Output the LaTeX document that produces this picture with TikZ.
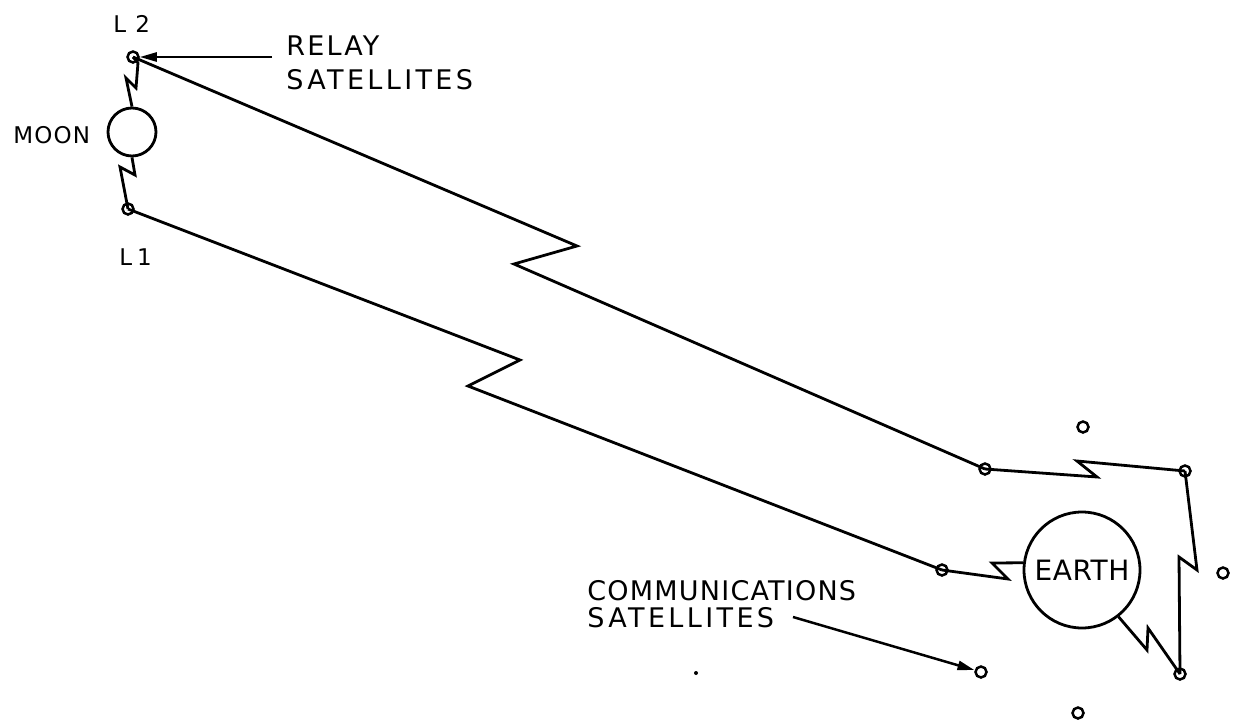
\documentclass[tikz,border=0pt]{standalone}
\usepackage{fontspec}
\setmainfont{DejaVu Sans}
\newcommand{\lspc}[1]{\addfontfeature{LetterSpace=#1}}
\usetikzlibrary{arrows.meta}
\begin{document}
\begin{tikzpicture}[x=1pt,y=-1pt,line width=2.8pt,
  sat/.style={circle,draw,inner sep=0pt,minimum size=11pt,line width=2.5pt},
  body/.style={circle,draw,inner sep=0pt,line width=2.8pt},
  lbl/.style={inner sep=0pt,font=\fontsize{27}{30}\selectfont},
  slbl/.style={inner sep=0pt,font=\fontsize{23}{26}\selectfont},
  pointer/.style={line width=2.5pt,-{Triangle[length=17pt,width=9pt]}}]
\useasboundingbox (0,0) rectangle (1237,723);

% bodies
\node[body,minimum size=48pt] (moon) at (132,132) {};
\node[body,minimum size=116pt,font=\fontsize{28}{30}\selectfont\lspc{2}] (earth) at (1082,570) {EARTH};

% relay satellites
\node[sat] (L2) at (133,57) {};
\node[sat] (L1) at (128,209) {};
\node[sat] (R1) at (985,469) {};
\node[sat] (R2) at (942,570) {};
\node[sat] (R3) at (1185,471) {};
\node[sat] (R4) at (1180,674) {};

% communications satellites
\node[sat] (C1) at (1083,427) {};
\node[sat] (C2) at (1223,573) {};
\node[sat] (C3) at (981,672) {};
\node[sat] (C4) at (1078,713) {};

% stray dot
\fill (696,673) circle (2pt);

% links
\draw (L2.center) -- (138,63) -- (136,88) -- (126,78) -- (moon.north);
\draw (moon.south) -- (135,175) -- (120,167) -- (L1.center);
\draw (L2.center) -- (577,246) -- (514,264) -- (R1.center);
\draw (L1.center) -- (520,360) -- (468,386) -- (R2.center);
\draw (R1.center) -- (1097,477) -- (1077,461) -- (R3.center);
\draw (R3.center) -- (1197,570) -- (1179,557) -- (R4.center);
\draw (R2.center) -- (1008,579) -- (992,563) -- (earth.173);
\draw (earth.308) -- (1147,650) -- (1148,628) -- (R4.center);

% labels
\node[slbl,anchor=base west] (l2t) at (112,32) {\lspc{40}L2};
\node[slbl,anchor=base west] (l1t) at (118,265) {\lspc{22}L1};
\node[slbl,anchor=base west] (moont) at (12,143) {\lspc{5}MOON};
\node[lbl,anchor=base west] (relay1) at (285,55) {\lspc{8}RELAY};
\node[lbl,anchor=base west] (relay2) at (285,89) {\lspc{12.5}SATELLITES};
\node[lbl,anchor=base west] (comm1) at (586,600) {\lspc{4.5}COMMUNICATIONS};
\node[lbl,anchor=base west] (comm2) at (586,627) {\lspc{12.5}SATELLITES};

% pointers
\coordinate (ra) at (272,57);
\coordinate (ca) at (793,617);
\draw[pointer] (ra) -- (L2);
\draw[pointer] (ca) -- (C3);
\end{tikzpicture}
\end{document}
